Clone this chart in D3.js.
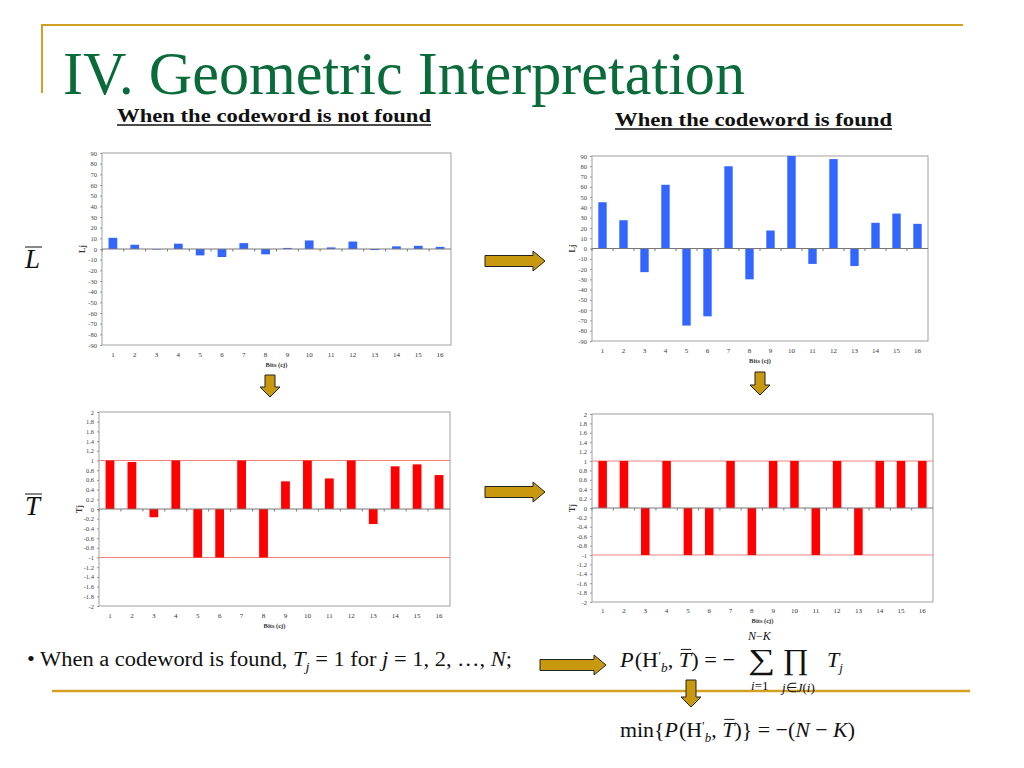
<!DOCTYPE html>
<html lang="en">
<head>
    <meta charset="UTF-8">
    <title>IV. Geometric Interpretation</title>
    <script src="https://cdnjs.cloudflare.com/ajax/libs/d3/7.8.5/d3.min.js"></script>
    <style>
        body {
            margin: 0;
            background: #fff;
        }

        text {
            font-family: "Liberation Serif", "Times New Roman", serif;
            fill: #111;
        }

        .tick text {
            font-size: 6.5px;
            fill: #444;
        }

        .tick line {
            stroke: #999;
        }
    </style>
</head>
<body>
<script>
    // bits on the x axis
    var bits = [1, 2, 3, 4, 5, 6, 7, 8, 9, 10, 11, 12, 13, 14, 15, 16];
    // L values (top row)
    var lNotFound = [10.5, 4, -0.5, 5, -6, -7.5, 5.5, -5, 1, 8, 1.5, 7, -1, 2.5, 3, 2];
    var lFound = [45, 27.5, -23, 62, -75, -66, 80, -30, 17.5, 90, -15, 87, -17, 25, 34, 24];
    // T values (bottom row)
    var tNotFound = [1, 0.97, -0.17, 1, -1, -1, 1, -1, 0.57, 1, 0.63, 1, -0.31, 0.88, 0.92, 0.7];
    var tFound = [1, 1, -1, 1, -1, -1, 1, -1, 1, 1, -1, 1, -1, 1, 1, 1];
    // tick labels
    var lTicks = [-90, -80, -70, -60, -50, -40, -30, -20, -10, 0, 10, 20, 30, 40, 50, 60, 70, 80, 90];
    var tTicks = [-2, -1.8, -1.6, -1.4, -1.2, -1, -0.8, -0.6, -0.4, -0.2, 0, 0.2, 0.4, 0.6, 0.8, 1, 1.2, 1.4, 1.6, 1.8, 2];
    var tLimits = [1, -1];

    var gold = "#d2a124";

    var svg = d3.select("body")
            .append("svg")
            .attr("width", 1024)
            .attr("height", 768);

    // frame lines of the slide
    svg.append("line").attr("x1", 42).attr("x2", 963).attr("y1", 25).attr("y2", 25)
            .attr("stroke", gold).attr("stroke-width", 2);
    svg.append("line").attr("x1", 42).attr("x2", 42).attr("y1", 24).attr("y2", 93)
            .attr("stroke", gold).attr("stroke-width", 2);
    svg.append("line").attr("x1", 52).attr("x2", 970).attr("y1", 691).attr("y2", 691)
            .attr("stroke", gold).attr("stroke-width", 2.5);

    svg.append("text")
            .attr("x", 63)
            .attr("y", 94)
            .attr("font-size", 62)
            .attr("textLength", 682)
            .attr("lengthAdjust", "spacingAndGlyphs")
            .style("fill", "#0a6b3a")
            .text("IV. Geometric Interpretation");

    function heading(x, y, len, str) {
        svg.append("text")
                .attr("x", x)
                .attr("y", y)
                .attr("font-size", 18)
                .attr("font-weight", "bold")
                .attr("textLength", len)
                .attr("lengthAdjust", "spacingAndGlyphs")
                .text(str);
        svg.append("line")
                .attr("x1", x).attr("x2", x + len)
                .attr("y1", y + 3).attr("y2", y + 3)
                .attr("stroke", "#111").attr("stroke-width", 1.3);
    }
    heading(117, 122, 314, "When the codeword is not found");
    heading(615, 126, 277, "When the codeword is found");

    function drawChart(box, values, ticks, color, yName, limits) {
        var g = svg.append("g");
        var x = d3.scaleBand()
                .domain(bits)
                .range([box.left, box.right])
                .paddingInner(0.6)
                .paddingOuter(0.3);
        var y = d3.scaleLinear()
                .domain([ticks[0], ticks[ticks.length - 1]])
                .range([box.bottom, box.top]);

        g.append("rect")
                .attr("x", box.left)
                .attr("y", box.top)
                .attr("width", box.right - box.left)
                .attr("height", box.bottom - box.top)
                .attr("fill", "#fff")
                .attr("stroke", "#a0a0a0");

        var yAxis = g.append("g")
                .attr("transform", "translate(" + box.left + ",0)")
                .call(d3.axisLeft(y)
                        .tickValues(ticks)
                        .tickSize(2)
                        .tickPadding(3)
                        .tickFormat(function (d) {
                            return String(+d.toFixed(1));
                        }));
        yAxis.select(".domain").remove();

        if (limits) {
            g.selectAll("line.limit")
                    .data(limits)
                    .enter()
                    .append("line")
                    .attr("class", "limit")
                    .attr("x1", box.left)
                    .attr("x2", box.right)
                    .attr("y1", function (d) {
                        return y(d);
                    })
                    .attr("y2", function (d) {
                        return y(d);
                    })
                    .attr("stroke", "#f08080")
                    .attr("stroke-width", 1);
        }

        g.selectAll("rect.bar")
                .data(values)
                .enter()
                .append("rect")
                .attr("class", "bar")
                .attr("x", function (d, i) {
                    return x(bits[i]);
                })
                .attr("y", function (d) {
                    return y(Math.max(0, d));
                })
                .attr("width", x.bandwidth())
                .attr("height", function (d) {
                    return Math.abs(y(d) - y(0));
                })
                .attr("fill", color);

        // zero line with small marks between the bits
        g.append("line")
                .attr("x1", box.left)
                .attr("x2", box.right)
                .attr("y1", y(0))
                .attr("y2", y(0))
                .attr("stroke", "#777");
        g.selectAll("line.mark")
                .data(bits)
                .enter()
                .append("line")
                .attr("class", "mark")
                .attr("x1", function (d) {
                    return x(d) - x.step() * 0.3;
                })
                .attr("x2", function (d) {
                    return x(d) - x.step() * 0.3;
                })
                .attr("y1", y(0))
                .attr("y2", y(0) + 2.5)
                .attr("stroke", "#777");

        g.selectAll("text.bit")
                .data(bits)
                .enter()
                .append("text")
                .attr("class", "bit")
                .attr("x", function (d) {
                    return x(d) + x.bandwidth() / 2;
                })
                .attr("y", box.labelY)
                .attr("text-anchor", "middle")
                .attr("font-size", 7)
                .style("fill", "#333")
                .text(function (d) {
                    return d;
                });

        g.append("text")
                .attr("x", (box.left + box.right) / 2)
                .attr("y", box.labelY + 10)
                .attr("text-anchor", "middle")
                .attr("font-size", 6.5)
                .attr("font-weight", "bold")
                .style("fill", "#333")
                .text("Bits (cj)");

        g.append("text")
                .attr("transform", "translate(" + (box.left - 17) + "," + y(0) + ") rotate(-90)")
                .attr("text-anchor", "middle")
                .attr("font-size", 8)
                .attr("font-weight", "bold")
                .style("fill", "#333")
                .text(yName);
    }

    drawChart({left: 102, right: 451, top: 153, bottom: 345, labelY: 357}, lNotFound, lTicks, "#3366ff", "Lj");
    drawChart({left: 592, right: 928, top: 156, bottom: 341, labelY: 353}, lFound, lTicks, "#3366ff", "Lj");
    drawChart({left: 99, right: 450, top: 412, bottom: 606, labelY: 618}, tNotFound, tTicks, "#ff0000", "Tj", tLimits);
    drawChart({left: 592, right: 933, top: 414, bottom: 602, labelY: 613}, tFound, tTicks, "#ff0000", "Tj", tLimits);

    // gold arrows
    function arrowRight(x0, x1, cy) {
        var p = d3.path();
        p.moveTo(x0, cy - 5.5);
        p.lineTo(x1 - 12, cy - 5.5);
        p.lineTo(x1 - 12, cy - 10);
        p.lineTo(x1, cy);
        p.lineTo(x1 - 12, cy + 10);
        p.lineTo(x1 - 12, cy + 5.5);
        p.lineTo(x0, cy + 5.5);
        p.closePath();
        svg.append("path").attr("d", p.toString())
                .attr("fill", "#c8980e").attr("stroke", "#222").attr("stroke-width", 1);
    }

    function arrowDown(cx, y0, y1) {
        var p = d3.path();
        p.moveTo(cx - 5, y0);
        p.lineTo(cx + 5, y0);
        p.lineTo(cx + 5, y1 - 10);
        p.lineTo(cx + 10, y1 - 10);
        p.lineTo(cx, y1);
        p.lineTo(cx - 10, y1 - 10);
        p.lineTo(cx - 5, y1 - 10);
        p.closePath();
        svg.append("path").attr("d", p.toString())
                .attr("fill", "#c8980e").attr("stroke", "#222").attr("stroke-width", 1);
    }

    arrowRight(485, 545, 261);
    arrowRight(485, 545, 492);
    arrowRight(540, 606, 665);
    arrowDown(270, 375, 397);
    arrowDown(760, 372, 395);
    arrowDown(691, 680, 707);

    // row labels L and T with bars
    function barred(x, y, str) {
        var t = svg.append("text")
                .attr("x", x)
                .attr("y", y)
                .attr("font-size", 27)
                .attr("font-style", "italic")
                .text(str);
        var w = t.node().getComputedTextLength();
        svg.append("line")
                .attr("x1", x).attr("x2", x + w + 2)
                .attr("y1", y - 21).attr("y2", y - 21)
                .attr("stroke", "#111").attr("stroke-width", 1);
    }
    barred(25, 268, "L");
    barred(25, 515, "T");

    // one text per row of math, pieces as tspans
    function mathRow(x, y, size, parts, len) {
        var t = svg.append("text")
                .attr("x", x)
                .attr("y", y)
                .attr("font-size", size)
                .style("white-space", "pre");
        if (len) {
            t.attr("textLength", len).attr("lengthAdjust", "spacingAndGlyphs");
        }
        var shift = 0, idx = 0, bars = [];
        parts.forEach(function (p) {
            var s = t.append("tspan")
                    .attr("dy", (p.dy || 0) - shift)
                    .attr("font-size", p.size || size)
                    .attr("font-style", p.it ? "italic" : "normal")
                    .text(p.t);
            if (p.dx) {
                s.attr("dx", p.dx);
            }
            shift = p.dy || 0;
            if (p.bar) {
                bars.push({i: idx, n: p.t.length, s: p.size || size});
            }
            idx += p.t.length;
        });
        bars.forEach(function (b) {
            var a = t.node().getExtentOfChar(b.i);
            var z = t.node().getExtentOfChar(b.i + b.n - 1);
            svg.append("line")
                    .attr("x1", a.x + 2).attr("x2", z.x + z.width)
                    .attr("y1", y - b.s * 0.8).attr("y2", y - b.s * 0.8)
                    .attr("stroke", "#111").attr("stroke-width", 1);
        });
    }

    var pParts = [
        {t: "P", it: true},
        {t: "(H", dx: 1},
        {t: "\u2032", size: 13, dy: -7},
        {t: "b", it: true, size: 13, dy: 5},
        {t: ", "},
        {t: "T", it: true, bar: true},
        {t: ")"}
    ];

    mathRow(620, 667, 22, pParts.concat([{t: " = \u2212"}]), 115);

    // big operators, stretched a little wider
    svg.append("text").attr("transform", "translate(762,669) scale(1.3,1)").attr("font-size", 29)
            .attr("text-anchor", "middle").text("\u2211");
    svg.append("text").attr("transform", "translate(796,669) scale(1.1,1)").attr("font-size", 29)
            .attr("text-anchor", "middle").text("\u220F");
    mathRow(748, 640, 12, [{t: "N", it: true}, {t: "\u2212"}, {t: "K", it: true}]);
    mathRow(751, 690, 13, [{t: "i", it: true}, {t: "=1"}]);
    mathRow(782, 692, 13, [{t: "j", it: true}, {t: "\u2208"}, {t: "J", it: true}, {t: "("}, {t: "i", it: true}, {t: ")"}]);
    mathRow(827, 667, 22, [{t: "T", it: true}, {t: "j", it: true, size: 13, dy: 5}]);

    mathRow(620, 737, 22, [{t: "min{"}].concat(pParts).concat([
        {t: "} = \u2212("},
        {t: "N", it: true},
        {t: " \u2212 "},
        {t: "K", it: true},
        {t: ")"}
    ]), 235);

    // bullet line
    mathRow(27, 666, 20, [
        {t: "\u2022 When a codeword is found, "},
        {t: "T", it: true},
        {t: "j", it: true, size: 13, dy: 5},
        {t: " = 1 for "},
        {t: "j", it: true},
        {t: " = 1, 2, \u2026, "},
        {t: "N", it: true},
        {t: ";"}
    ], 485);
</script>
</body>
</html>
